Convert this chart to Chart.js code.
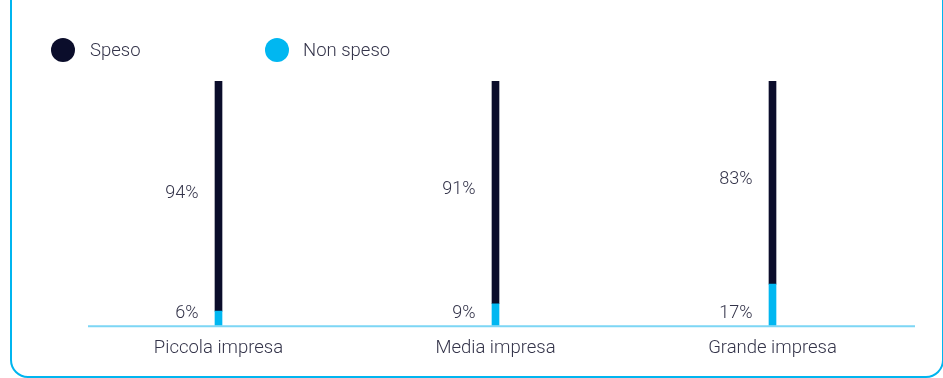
<!DOCTYPE html>
<html>
<head>
<meta charset="utf-8">
<script src="https://cdn.jsdelivr.net/npm/chart.js@4/dist/chart.umd.min.js"></script>
<style>
  html, body { margin: 0; padding: 0; background: #fff; overflow: hidden; }
  #wrap { position: relative; width: 943px; height: 378px; }
  #card {
    position: absolute; left: 10px; top: -40px; width: 934px; height: 418px;
    border: 2px solid #00b5ef; border-radius: 18px; box-sizing: border-box;
  }
  canvas { position: absolute; left: 0; top: 0; }
</style>
</head>
<body>
<div id="wrap">
  <div id="card"></div>
  <canvas id="c" width="943" height="378"></canvas>
</div>
<script>
const categories = ['Piccola impresa', 'Media impresa', 'Grande impresa'];
const speso = [94, 91, 83];
const nonSpeso = [6, 9, 17];
const seriesNames = ['Speso', 'Non speso'];
const colors = { speso: '#0b0d2b', nonSpeso: '#00b7f1', base: '#7dd6f5', text: '#34344a' };
const FONT = 'Roboto, "Open Sans", sans-serif';

// Percent labels to the left of each bar segment, baseline rule and legend
const decor = {
  id: 'decor',
  afterDatasetsDraw(chart) {
    const { ctx, chartArea } = chart;
    const xs = chart.scales.x, ys = chart.scales.y;
    ctx.save();
    // baseline
    ctx.strokeStyle = colors.base;
    ctx.lineWidth = 2;
    ctx.beginPath();
    ctx.moveTo(88, chartArea.bottom + 0.5);
    ctx.lineTo(915, chartArea.bottom + 0.5);
    ctx.stroke();

    ctx.font = '300 18px ' + FONT;
    ctx.fillStyle = colors.text;
    ctx.textAlign = 'right';
    ctx.textBaseline = 'middle';
    categories.forEach((c, i) => {
      const x = xs.getPixelForValue(i) - 20;
      const yTop = ys.getPixelForValue(100);
      const yMid = ys.getPixelForValue(nonSpeso[i]);
      ctx.fillText(speso[i] + '%', x, (yTop + yMid) / 2 - 3);
      ctx.fillText(nonSpeso[i] + '%', x, chartArea.bottom - 12);
    });

    // legend
    const items = [
      { label: seriesNames[0], color: colors.speso, cx: 63, tx: 90 },
      { label: seriesNames[1], color: colors.nonSpeso, cx: 277, tx: 303 }
    ];
    ctx.font = '300 18.5px ' + FONT;
    ctx.textAlign = 'left';
    items.forEach(it => {
      ctx.fillStyle = it.color;
      ctx.beginPath();
      ctx.arc(it.cx, 50, 12, 0, Math.PI * 2);
      ctx.fill();
      ctx.fillStyle = colors.text;
      ctx.fillText(it.label, it.tx, 51);
    });
    ctx.restore();
  }
};

new Chart(document.getElementById('c'), {
  type: 'bar',
  data: {
    labels: categories,
    datasets: [
      { label: seriesNames[1], data: nonSpeso, backgroundColor: colors.nonSpeso, barThickness: 7, borderWidth: 0 },
      { label: seriesNames[0], data: speso, backgroundColor: colors.speso, barThickness: 7, borderWidth: 0 }
    ]
  },
  options: {
    responsive: false,
    animation: false,
    layout: { padding: { top: 81, left: 80, right: 32, bottom: 16 } },
    plugins: { legend: { display: false }, tooltip: { enabled: false } },
    scales: {
      x: {
        stacked: true,
        grid: { display: false },
        border: { display: false },
        ticks: { padding: 3, color: colors.text, font: { family: FONT, size: 18.5, weight: 300 } }
      },
      y: { stacked: true, display: false, min: 0, max: 100 }
    }
  },
  plugins: [decor]
});
</script>
</body>
</html>
